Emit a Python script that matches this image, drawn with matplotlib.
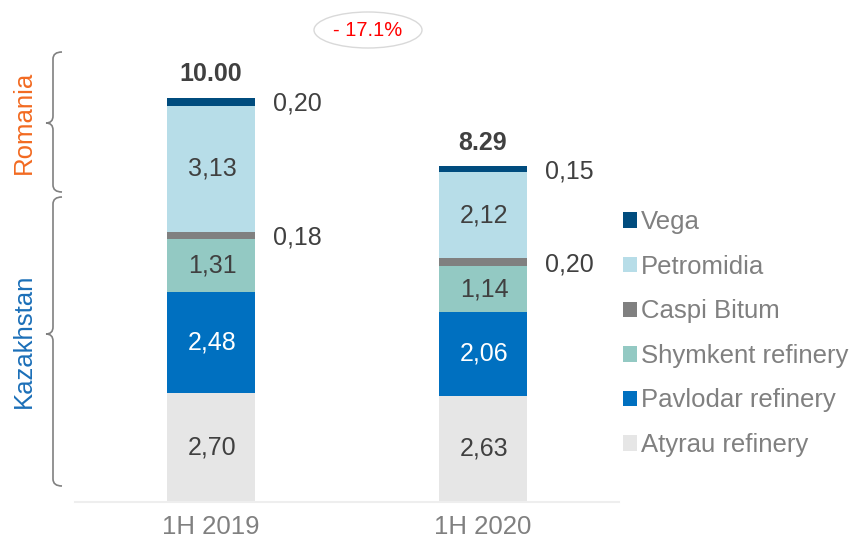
import matplotlib
matplotlib.use('Agg')
from matplotlib import pyplot as plt
from matplotlib.patches import Ellipse
from matplotlib.path import Path
from matplotlib.patches import PathPatch
import numpy as np

plt.rcParams['font.family'] = ['Liberation Sans', 'DejaVu Sans']

# data
periods = ['1H 2019', '1H 2020']
series = ['Atyrau refinery', 'Pavlodar refinery', 'Shymkent refinery',
          'Caspi Bitum', 'Petromidia', 'Vega']
atyrau = [2.70, 2.63]
pavlodar = [2.48, 2.06]
shymkent = [1.31, 1.14]
caspi = [0.18, 0.20]
petromidia = [3.13, 2.12]
vega = [0.20, 0.15]
totals = [10.00, 8.29]
change_label = '- 17.1%'

values = [atyrau, pavlodar, shymkent, caspi, petromidia, vega]
colors = ['#E6E6E6', '#0070C0', '#93C9C3', '#808080', '#B7DDE8', '#004C7E']
inside_color = ['#404040', 'white', '#404040', None, '#404040', None]

fig = plt.figure(figsize=(8.58, 5.45), dpi=100)
ax = fig.add_axes([75 / 858, 43 / 545, 544 / 858, 1 - 43 / 545 - 16.6 / 545])
x = np.arange(len(periods))
width = 0.32

bottom = np.zeros(len(periods))
handles = []
for name, vals, col, tc in zip(series, values, colors, inside_color):
    vals = np.array(vals)
    b = ax.bar(x, vals, width, bottom=bottom, color=col, linewidth=0, label=name)
    handles.append(b)
    for i in range(len(x)):
        mid = bottom[i] + vals[i] / 2
        txt = '%.2f' % vals[i]
        txt = txt.replace('.', ',')
        if tc is not None:
            ax.text(x[i] + 0.005, mid, txt, ha='center', va='center',
                    fontsize=18, color=tc)
        else:
            # small segments get their label to the right of the bar
            ax.text(x[i] + width / 2 + 0.068, mid - 0.05, txt, ha='left',
                    va='center', fontsize=18, color='#404040')
    bottom = bottom + vals

for i in range(len(x)):
    ax.text(x[i], totals[i] + 0.58, '%.2f' % totals[i], ha='center', va='center',
            fontsize=18, fontweight='bold', color='#404040')

ax.set_xlim(-0.5, 1.5)
ax.set_ylim(0, 12)
ax.set_xticks(x)
ax.set_xticklabels(periods, fontsize=18.5, color='#808080')
ax.tick_params(axis='x', length=0, pad=9)
ax.set_yticks([])
for s in ['top', 'right', 'left']:
    ax.spines[s].set_visible(False)
ax.spines['bottom'].set_color('#EEEEEE')
ax.spines['bottom'].set_linewidth(1.5)

# legend
leg = fig.legend(handles[::-1], series[::-1], loc='upper left',
                 bbox_to_anchor=(613 / 858, 1 - 200 / 545), frameon=False,
                 fontsize=18.5, handlelength=0.55, handleheight=0.55,
                 handletextpad=0.15, labelspacing=0.80, borderaxespad=0)
for t in leg.get_texts():
    t.set_color('#808080')

# change bubble
ell = Ellipse((368 / 858, 1 - 30 / 545), 108 / 858, 36 / 545,
              transform=fig.transFigure, facecolor='white',
              edgecolor='#D9D9D9', linewidth=1.0)
fig.patches.append(ell)
fig.text(368 / 858, 1 - 31 / 545, change_label, ha='center', va='center',
         fontsize=14.5, color='#FF0000')


# braces on the left
def brace(y0, y1, ytip, xs=53, xt=46, xe=62, r=7):
    H = 545.0
    pts = [(xe, y0), (xs, y0), (xs, y0 + r), (xs, ytip - r), (xs, ytip),
           (xt, ytip), (xs, ytip), (xs, ytip + r), (xs, y1 - r), (xs, y1),
           (xe, y1)]
    pts = [(px / 858.0, 1 - py / H) for px, py in pts]
    codes = [Path.MOVETO, Path.CURVE3, Path.CURVE3, Path.LINETO, Path.CURVE3,
             Path.CURVE3, Path.CURVE3, Path.CURVE3, Path.LINETO, Path.CURVE3,
             Path.CURVE3]
    p = PathPatch(Path(pts, codes), transform=fig.transFigure, facecolor='none',
                  edgecolor='#808080', linewidth=1.2)
    fig.patches.append(p)


brace(52, 192, 123)
brace(197, 486, 334)

fig.text(24 / 858, 1 - 122 / 545, 'Romania', rotation=90, ha='center',
         va='center', fontsize=18.5, color='#F26A21')
fig.text(24 / 858, 1 - 341 / 545, 'Kazakhstan', rotation=90, ha='center',
         va='center', fontsize=18.5, color='#1B6FB8')

plt.savefig('out.png', dpi=100)
